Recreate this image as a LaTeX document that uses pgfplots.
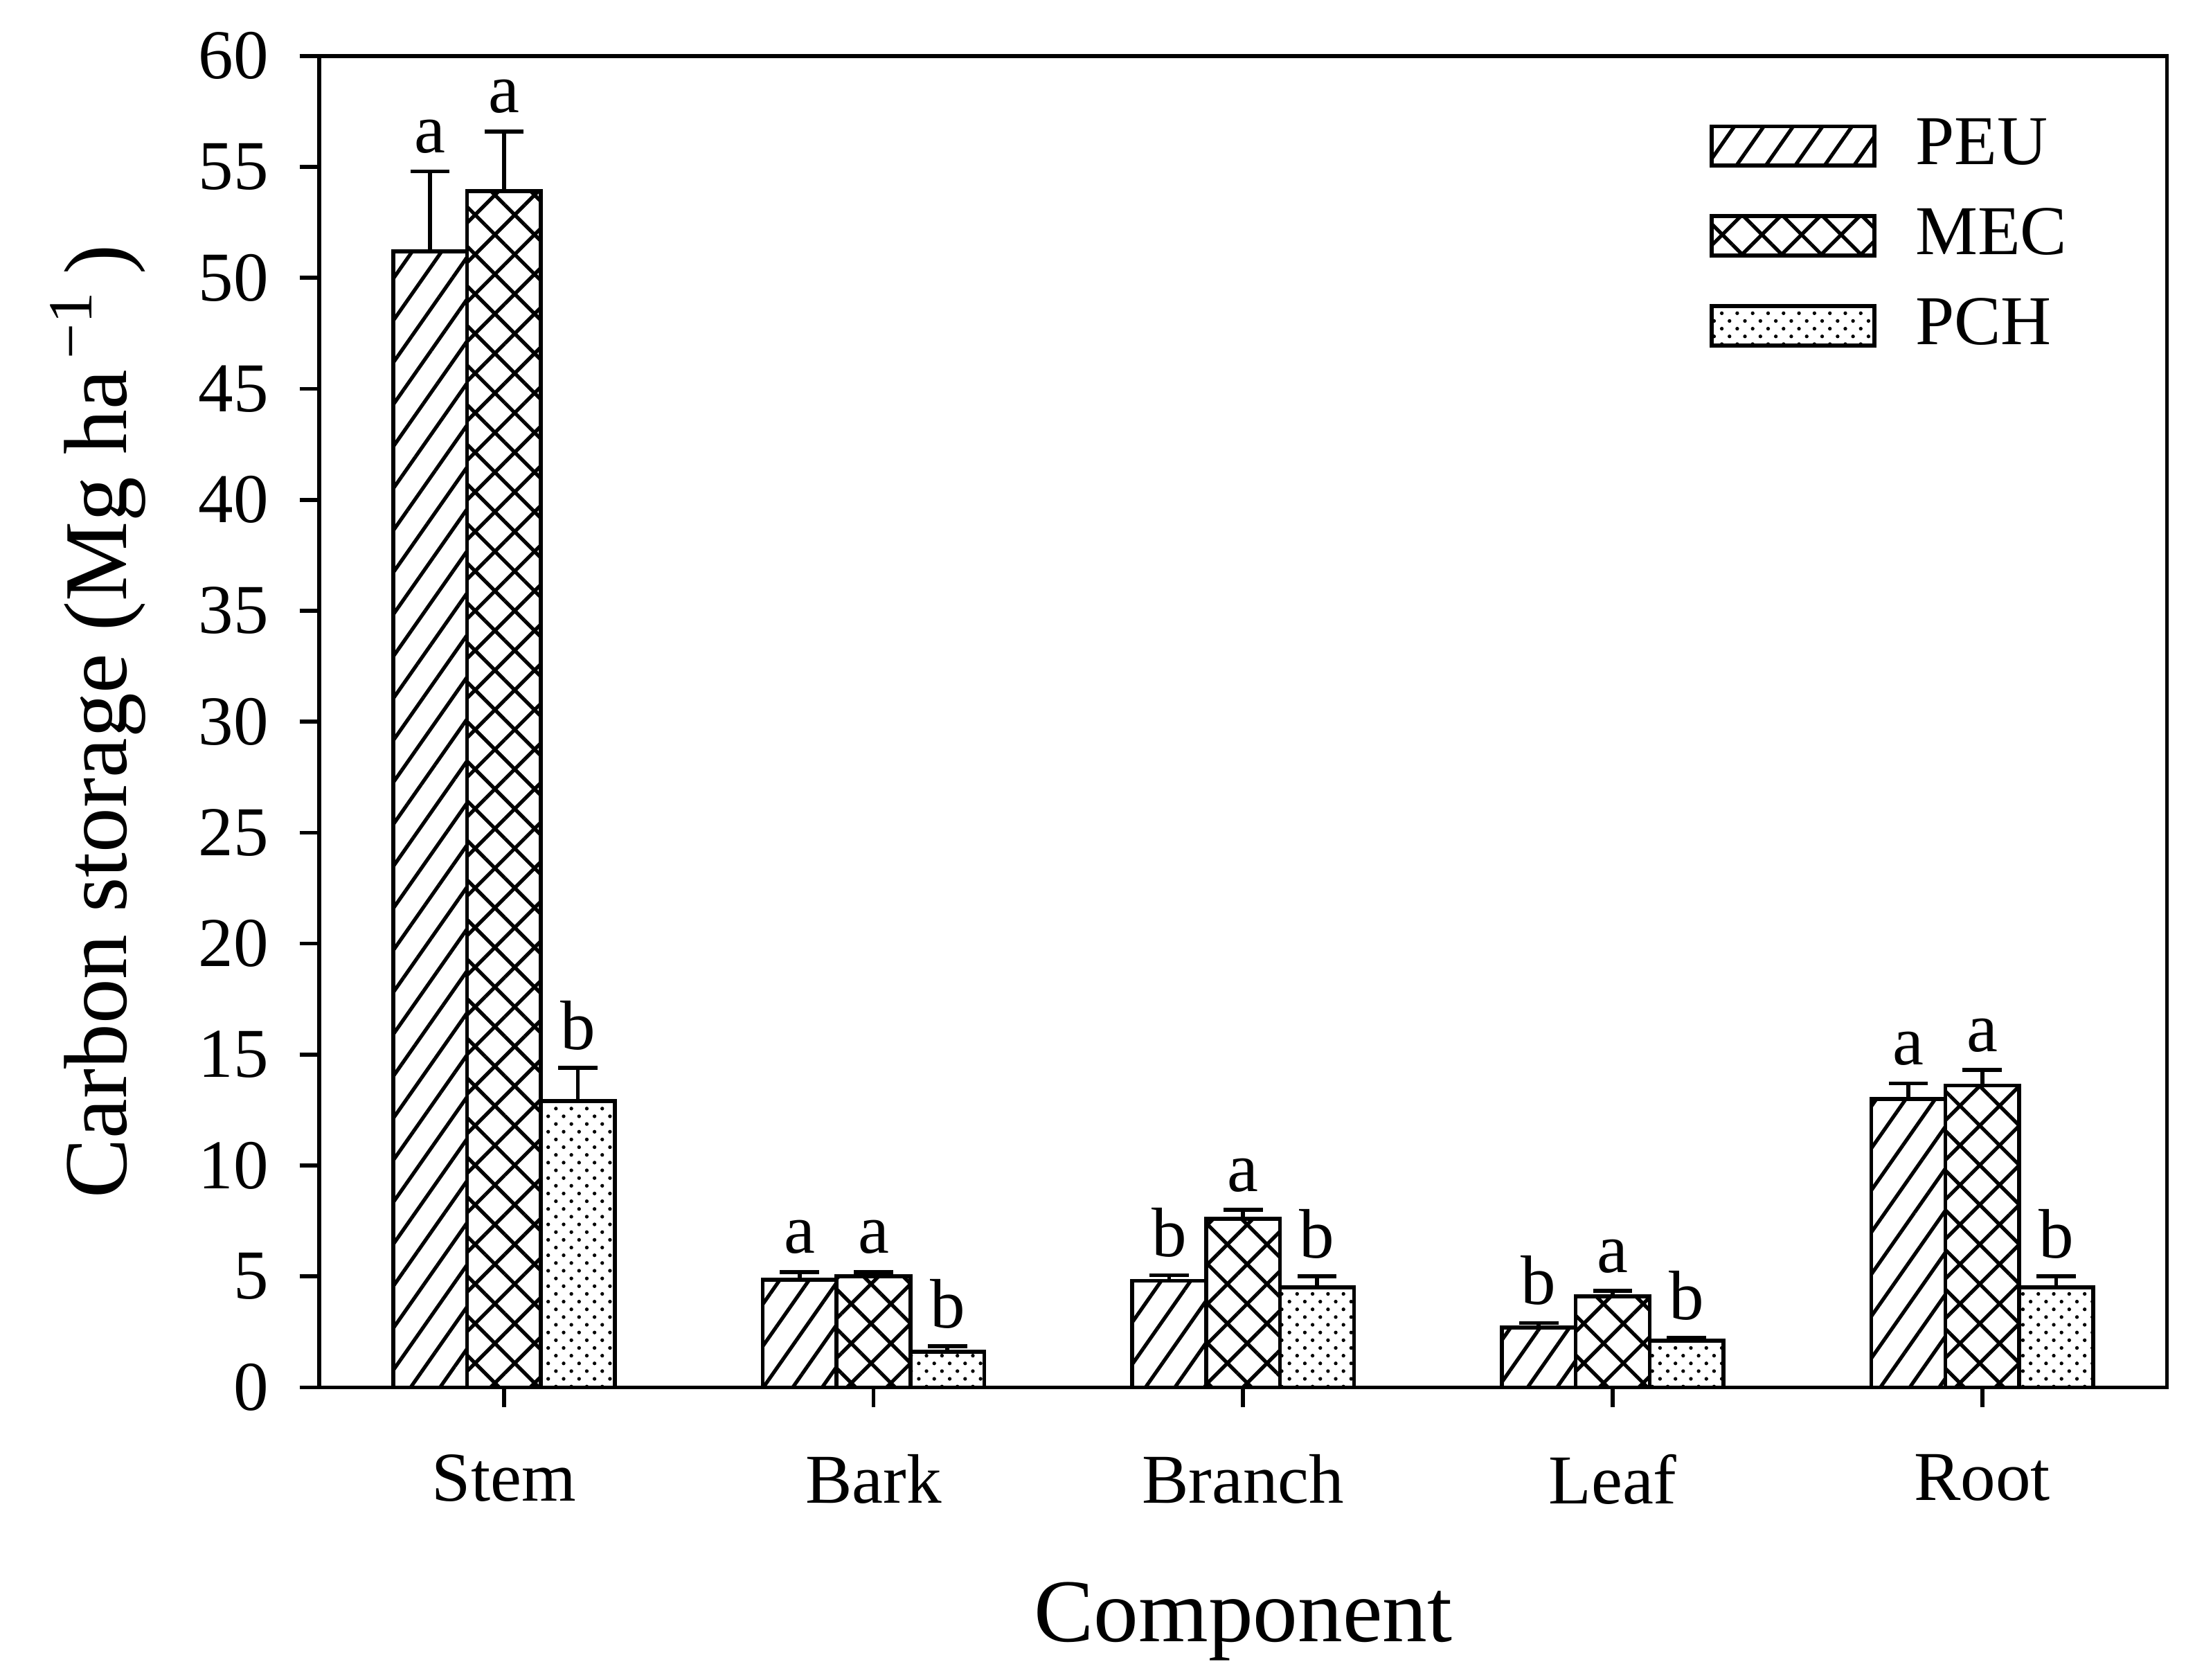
\documentclass[border=0pt]{standalone}
\usepackage{fontspec}
\setmainfont{Liberation Serif}
\usepackage{pgfplots}
\usepackage{pgfplotstable}
\pgfplotsset{compat=1.18}
\usetikzlibrary{patterns.meta,calc}

\pgfplotstableread{
x y e l
0 51.2 3.6 a
1 4.85 0.35 a
2 4.8 0.25 b
3 2.7 0.2 b
4 13.0 0.7 a
}\peu
\pgfplotstableread{
x y e l
0 53.9 2.7 a
1 5.0 0.2 a
2 7.6 0.4 a
3 4.1 0.25 a
4 13.6 0.7 a
}\mec
\pgfplotstableread{
x y e l
0 12.9 1.5 b
1 1.6 0.25 b
2 4.5 0.5 b
3 2.1 0.12 b
4 4.5 0.5 b
}\pch

\begin{document}
\begin{tikzpicture}
\pgfplotsset{
  mybar/.style={ybar, bar width=0.2, draw=black, line width=0.7pt,
    legend image code/.code={\draw[##1, line width=0.7pt] (0pt,-3.5pt) rectangle (29pt,3.5pt);}},
  errs/.style={draw=none, mark=none, forget plot,
    error bars/y dir=plus, error bars/y explicit,
    error bars/error bar style={line width=0.7pt, black, solid},
    error bars/error mark options={rotate=90, mark size=3.5pt, line width=0.7pt, black, solid}},
  letters/.style={draw=none, mark=none, forget plot, nodes near coords,
    point meta=explicit symbolic,
    nodes near coords style={anchor=south, inner sep=0pt, yshift=3pt, font=\fontsize{12.5}{14}\selectfont, black}},
}
\begin{axis}[
  width=330pt, height=237.75pt, scale only axis,
  xmin=-0.5, xmax=4.5, ymin=0, ymax=60,
  xtick={0,1,2,3,4}, xticklabels={Stem,Bark,Branch,Leaf,Root},
  ytick={0,5,...,60},
  tick align=outside, xtick pos=left, ytick pos=left,
  major tick length=3.5pt,
  axis line style={line width=0.7pt},
  tick style={line width=0.7pt, black},
  clip=false,
  /pgf/number format/assume math mode=true,
  tick label style={font=\fontsize{12.5}{14}\selectfont},
  yticklabel style={xshift=-2pt},
  xticklabel style={yshift=-5pt},
  xlabel={Component},
  ylabel={Carbon storage (Mg ha\textsuperscript{\,−1}\,)},
  label style={font=\fontsize{16}{19}\selectfont},
  xlabel style={at={(axis description cs:0.5,-0.1756)}, anchor=center},
  ylabel style={at={(axis description cs:-0.1197,0.5)}, anchor=center},
  legend style={at={(0.752,0.962)}, anchor=north west, draw=none, fill=none,
    font=\fontsize{12.5}{14}\selectfont, row sep=2.3pt, inner sep=0pt,
    nodes={inner sep=2pt},
    /tikz/every odd column/.append style={column sep=5pt}},
  legend cell align=left,
]
\addplot[mybar, bar shift=-0.2, pattern={Lines[angle=55, distance=4.3pt, line width=0.65pt]}]
  table[x=x, y=y] {\peu};
\addlegendentry{PEU}
\addplot[mybar, bar shift=0, pattern={Hatch[angle=45, distance=5pt, line width=0.65pt]}]
  table[x=x, y=y] {\mec};
\addlegendentry{MEC}
\addplot[mybar, bar shift=0.2, pattern={Dots[distance=1.95pt, radius=0.33pt, angle=45]}]
  table[x=x, y=y] {\pch};
\addlegendentry{PCH}

\addplot[errs] table[x expr=\thisrow{x}-0.2, y=y, y error=e] {\peu};
\addplot[errs] table[x=x, y=y, y error=e] {\mec};
\addplot[errs] table[x expr=\thisrow{x}+0.2, y=y, y error=e] {\pch};

\addplot[letters] table[x expr=\thisrow{x}-0.2, y expr=\thisrow{y}+\thisrow{e}, meta=l] {\peu};
\addplot[letters] table[x expr=\thisrow{x}, y expr=\thisrow{y}+\thisrow{e}, meta=l] {\mec};
\addplot[letters] table[x expr=\thisrow{x}+0.2, y expr=\thisrow{y}+\thisrow{e}, meta=l] {\pch};
\end{axis}
\path ($(current axis.south west)+(-57pt,-52.25pt)$) rectangle ($(current axis.north east)+(5pt,10pt)$);
\end{tikzpicture}
\end{document}
